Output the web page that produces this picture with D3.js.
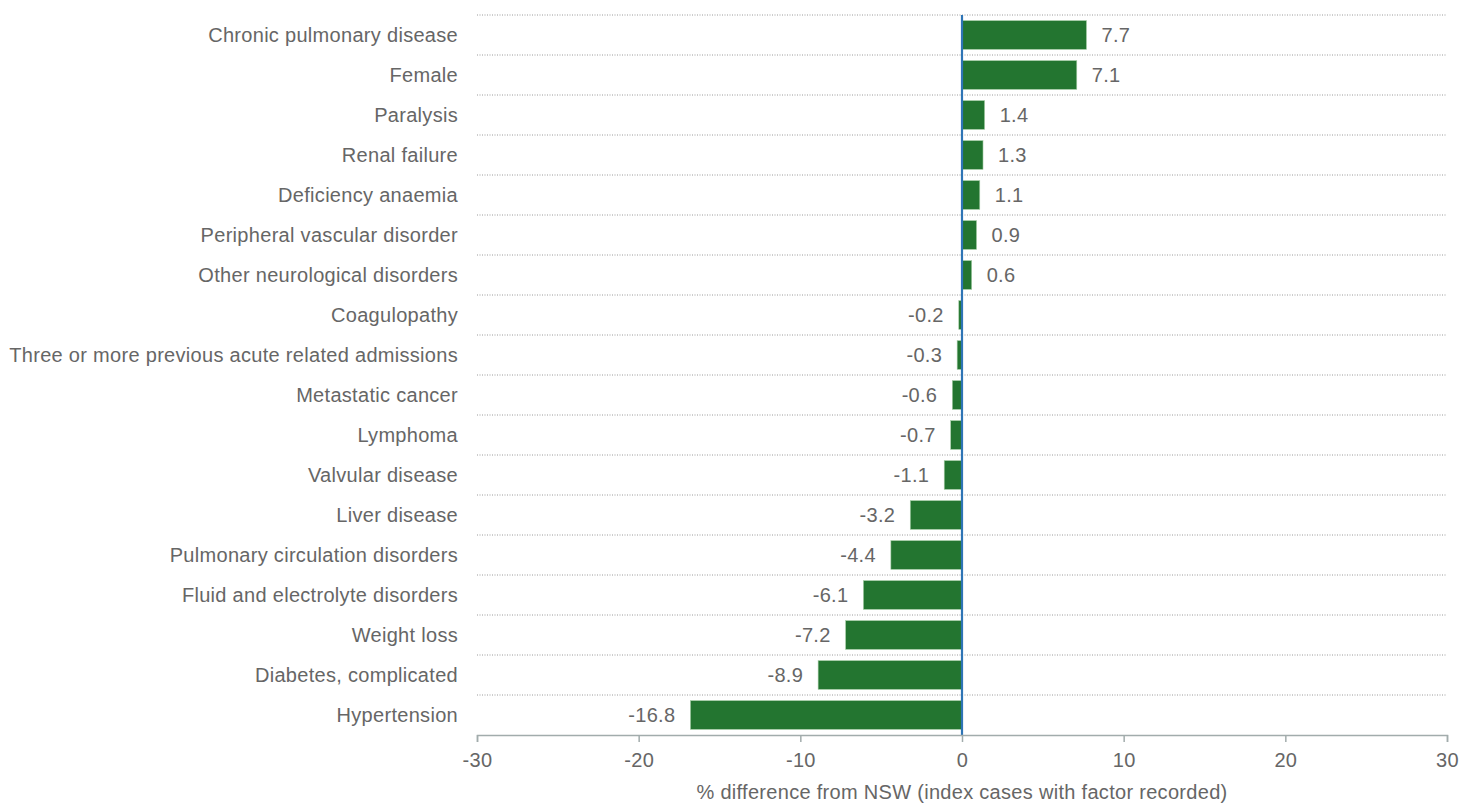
<!DOCTYPE html>
<html>
<head>
<meta charset="utf-8">
<script src="https://cdn.jsdelivr.net/npm/d3@7"></script>
<style>
  body { margin: 0; background: #fff; }
  text { font-family: "Liberation Sans", Arial, sans-serif; fill: #666; letter-spacing: 0.3px; }
</style>
</head>
<body>
<svg class="js-graph"></svg>
<script>
(function myModule(d3) {
  /* <DATA> */
  var categories = [
    'Chronic pulmonary disease', 'Female', 'Paralysis', 'Renal failure',
    'Deficiency anaemia', 'Peripheral vascular disorder', 'Other neurological disorders',
    'Coagulopathy', 'Three or more previous acute related admissions', 'Metastatic cancer',
    'Lymphoma', 'Valvular disease', 'Liver disease', 'Pulmonary circulation disorders',
    'Fluid and electrolyte disorders', 'Weight loss', 'Diabetes, complicated', 'Hypertension'
  ];
  var values = [7.7, 7.1, 1.4, 1.3, 1.1, 0.9, 0.6, -0.2, -0.3, -0.6, -0.7, -1.1, -3.2, -4.4, -6.1, -7.2, -8.9, -16.8];
  var xTicks = [-30, -20, -10, 0, 10, 20, 30];
  var xTitle = '% difference from NSW (index cases with factor recorded)';
  /* </DATA> */

  var width = 1463;
  var height = 803;
  var margin = { top: 15, right: 16, bottom: 68, left: 477 };
  var fontSize = '20px';

  var svg = d3.select('.js-graph')
    .attr('width', width)
    .attr('height', height);

  var x = d3.scaleLinear()
    .domain([-30, 30])
    .range([margin.left, width - margin.right]);

  var y = d3.scaleBand()
    .domain(categories)
    .range([margin.top, height - margin.bottom])
    .paddingInner(0.28)
    .paddingOuter(0.14);

  var step = y.step();

  // dotted gridlines between rows
  svg.append('g')
    .selectAll('line')
    .data(categories)
    .join('line')
    .attr('x1', x(-30))
    .attr('x2', x(30))
    .attr('y1', function (d) { return y(d) - y.paddingOuter() * step; })
    .attr('y2', function (d) { return y(d) - y.paddingOuter() * step; })
    .attr('stroke', '#9a9a9a')
    .attr('stroke-width', 1)
    .attr('stroke-dasharray', '1,1.5');

  // bars
  svg.append('g')
    .selectAll('rect')
    .data(values)
    .join('rect')
    .attr('x', function (d) { return x(Math.min(0, d)); })
    .attr('y', function (d, i) { return y(categories[i]); })
    .attr('width', function (d) { return Math.abs(x(d) - x(0)); })
    .attr('height', y.bandwidth())
    .attr('fill', '#237530')
    .attr('stroke', '#a9cfa9')
    .attr('stroke-width', 0.6);

  // value labels
  svg.append('g')
    .selectAll('text')
    .data(values)
    .join('text')
    .attr('x', function (d) { return d >= 0 ? x(d) + 15 : x(d) - 15; })
    .attr('y', function (d, i) { return y(categories[i]) + y.bandwidth() / 2; })
    .attr('dy', '0.35em')
    .attr('text-anchor', function (d) { return d >= 0 ? 'start' : 'end'; })
    .style('font-size', fontSize)
    .text(function (d) { return d.toFixed(1); });

  // category labels
  svg.append('g')
    .selectAll('text')
    .data(categories)
    .join('text')
    .attr('x', 458)
    .attr('y', function (d) { return y(d) + y.bandwidth() / 2; })
    .attr('dy', '0.35em')
    .attr('text-anchor', 'end')
    .style('font-size', fontSize)
    .text(function (d) { return d; });

  // zero line
  svg.append('line')
    .attr('x1', x(0))
    .attr('x2', x(0))
    .attr('y1', margin.top)
    .attr('y2', height - margin.bottom)
    .attr('stroke', '#2e74b5')
    .attr('stroke-width', 2.2);

  // X AXIS
  var xAxis = svg.append('g')
    .attr('transform', 'translate(0,' + (height - margin.bottom) + ')')
    .call(d3.axisBottom(x).tickValues(xTicks).tickSize(7).tickPadding(11)
      .tickFormat(function (d) { return String(d); }));
  xAxis.select('.domain').attr('stroke', '#a2acac').attr('stroke-width', 1.5);
  xAxis.selectAll('.tick line').attr('stroke', '#a2acac').attr('stroke-width', 1.5);
  xAxis.selectAll('.tick text')
    .style('font-size', fontSize)
    .style('font-family', '"Liberation Sans", Arial, sans-serif')
    .attr('fill', '#666');

  svg.append('text')
    .attr('x', x(0))
    .attr('y', 799)
    .attr('text-anchor', 'middle')
    .style('font-size', fontSize)
    .text(xTitle);
}(d3));
</script>
</body>
</html>
